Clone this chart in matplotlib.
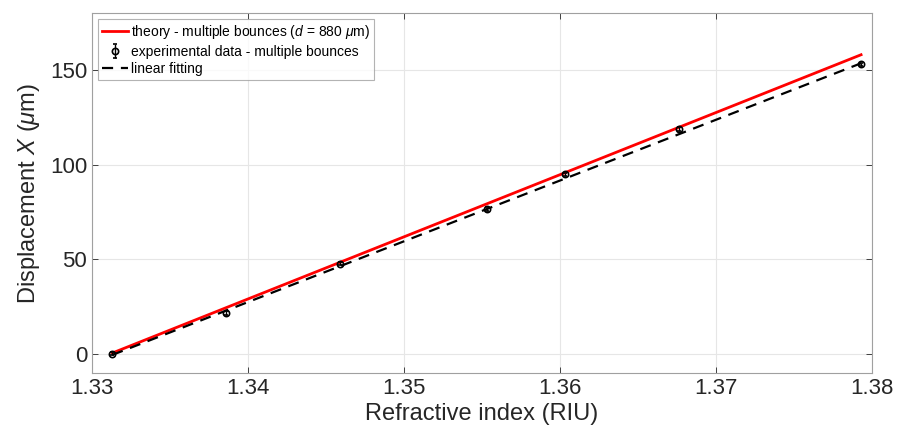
import matplotlib
matplotlib.use("Agg")
import matplotlib.pyplot as plt

plt.rcParams['font.family'] = ['Liberation Sans', 'DejaVu Sans']
plt.rcParams['mathtext.fontset'] = 'custom'
plt.rcParams['mathtext.rm'] = 'Liberation Sans'
plt.rcParams['mathtext.it'] = 'Liberation Sans:italic'

# experimental data - multiple bounces
n_exp = [1.3313, 1.3386, 1.3459, 1.3553, 1.3603, 1.3676, 1.3793]
x_exp = [0.0, 21.6, 47.5, 76.6, 94.9, 119.0, 153.0]
x_err = [0.8, 1.0, 0.8, 0.9, 0.8, 1.0, 0.8]

# theory (d = 880 um)
n_theory = [1.3313, 1.3793]
x_theory = [0.4, 158.1]

# linear fit
n_fit = [1.3313, 1.3793]
x_fit = [-0.6, 153.6]

fig = plt.figure(figsize=(9.04, 4.44), dpi=100)
ax = fig.add_axes([0.1018, 0.1606, 0.8628, 0.8094])

h1, = ax.plot(n_theory, x_theory, color='#ff0000', linewidth=2.0,
              label=r'theory - multiple bounces ($d$ = 880 $\mu$m)', zorder=3)
h2 = ax.errorbar(n_exp, x_exp, yerr=x_err, fmt='o', color='black', markersize=4.5,
                 markerfacecolor='none', markeredgewidth=1.2, elinewidth=1.0,
                 capsize=1.5, label='experimental data - multiple bounces', zorder=4)
h3, = ax.plot(n_fit, x_fit, color='black', linestyle=(0, (5, 3.5)), linewidth=1.6,
              label='linear fitting', zorder=5)

ax.set_xlim(1.33, 1.38)
ax.set_ylim(-10, 180)
ax.set_xticks([1.33, 1.34, 1.35, 1.36, 1.37, 1.38])
ax.set_xticklabels(['1.33', '1.34', '1.35', '1.36', '1.37', '1.38'])
ax.set_yticks([0, 50, 100, 150])

ax.grid(True, color='#e6e6e6', linewidth=0.8)
ax.set_axisbelow(True)
ax.tick_params(direction='in', top=True, right=True, labelsize=16,
               colors='#262626', length=4, width=0.6)
for s in ax.spines.values():
    s.set_color('#a0a0a0')
    s.set_linewidth(0.8)

ax.set_xlabel('Refractive index (RIU)', fontsize=17, color='#262626', labelpad=3)
ax.set_ylabel(r'Displacement $X$ ($\mu$m)', fontsize=17, color='#262626', labelpad=6)

leg = ax.legend([h1, h2, h3], [h1.get_label(), h2.get_label(), h3.get_label()],
                loc='upper left', fontsize=10, frameon=True, fancybox=False,
                borderaxespad=0.4, handlelength=1.9, handletextpad=0.2,
                labelspacing=0.25, borderpad=0.3)
leg.get_frame().set_edgecolor('#a0a0a0')
leg.get_frame().set_linewidth(0.8)

fig.savefig('out.png', dpi=100)
